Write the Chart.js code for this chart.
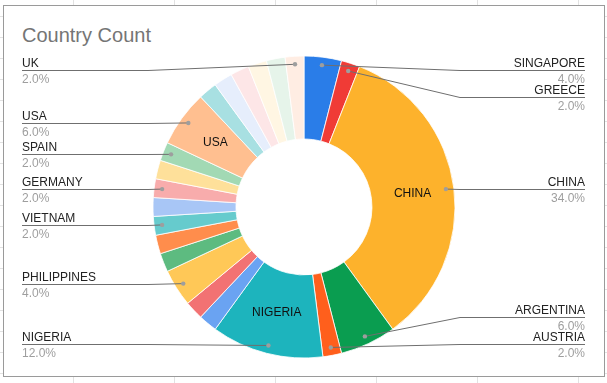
<!DOCTYPE html>
<html>
<head>
<meta charset="utf-8">
<script src="https://cdn.jsdelivr.net/npm/chart.js@4/dist/chart.umd.min.js"></script>
<style>
  html, body { margin: 0; padding: 0; }
  body {
    width: 607px; height: 383px; position: relative; overflow: hidden;
    background-color: #fff;
    background-image: linear-gradient(to right, #e2e2e2 1px, transparent 1px),
                      linear-gradient(to bottom, #e2e2e2 1px, transparent 1px);
    background-size: 101px 21px;
    background-position: 73px 16px;
  }
  #box {
    position: absolute; left: 3px; top: 5px; width: 602px; height: 372px;
    box-sizing: border-box; border: 1px solid #9a9a9a; background: #fff;
  }
  #title {
    position: absolute; left: 22px; top: 25px;
    font: 20px Arial, "Liberation Sans", sans-serif; line-height: 20px;
    color: #757575;
  }
  #wrap { position: absolute; left: 0; top: 0; width: 607px; height: 383px; }
</style>
</head>
<body>
<div id="box"></div>
<div id="title">Country Count</div>
<div id="wrap"><canvas id="chart"></canvas></div>
<script>
'use strict';

// Slices in clockwise order from 12 o'clock. Empty names = slices Sheets left unlabelled.
var countries = ['SINGAPORE', 'GREECE', 'CHINA', 'ARGENTINA', 'AUSTRIA', 'NIGERIA',
  '', '', 'PHILIPPINES', '', '', 'VIETNAM', '', 'GERMANY', '', 'SPAIN', 'USA',
  '', '', '', '', '', 'UK'];
var counts = [2, 1, 17, 3, 1, 6, 1, 1, 2, 1, 1, 1, 1, 1, 1, 1, 3, 1, 1, 1, 1, 1, 1];
var colors = ['#2a7de8', '#f03b36', '#fdb22c', '#0a9d50', '#ff5f1c', '#1db4bd',
  '#6aa3f2', '#f27273', '#ffc857', '#5dbb80', '#ff8d4c', '#66cbcd', '#a8c6f6',
  '#f8acac', '#fee09a', '#a2d9b4', '#ffbf90', '#a8e0e2', '#e6eefc', '#fde6e7',
  '#fff6e3', '#e6f4ea', '#ffede3'];

var FONT = 'Arial, "Liberation Sans", sans-serif';

// Spread the callouts of one side so they don't overlap, inside [top, bottom].
function layoutSide(items, top, bottom, gap) {
  items.sort(function (a, b) { return a.dy - b.dy; });
  items.forEach(function (it, k) {
    it.ly = Math.min(Math.max(it.dy, top), bottom);
    if (k > 0) it.ly = Math.max(it.ly, items[k - 1].ly + gap);
  });
  if (items.length) {
    var last = items[items.length - 1];
    last.ly = Math.min(last.ly, bottom);
  }
  for (var k = items.length - 2; k >= 0; k--) {
    items[k].ly = Math.min(items[k].ly, items[k + 1].ly - gap);
  }
}

var calloutPlugin = {
  id: 'callouts',
  afterDatasetsDraw: function (chart) {
    var ctx = chart.ctx,
        area = chart.chartArea,
        arcs = chart.getDatasetMeta(0).data,
        total = counts.reduce(function (a, b) { return a + b; }),
        left = [], right = [], cx = 0, cy = 0, outer = 0;

    ctx.save();
    ctx.font = '12px ' + FONT;

    arcs.forEach(function (arc, i) {
      var p = arc.getProps(['x', 'y', 'startAngle', 'endAngle', 'innerRadius', 'outerRadius'], true);
      cx = p.x; cy = p.y; outer = p.outerRadius;
      if (!countries[i]) return;
      var mid = (p.startAngle + p.endAngle) / 2,
          dotR = p.outerRadius - 8,
          midR = (p.innerRadius + p.outerRadius) / 2,
          item = {
            i: i,
            dx: p.x + Math.cos(mid) * dotR,
            dy: p.y + Math.sin(mid) * dotR
          };
      (Math.cos(mid) < 0 ? left : right).push(item);

      // label inside the slice when it fits
      var w = ctx.measureText(countries[i]).width;
      if ((p.endAngle - p.startAngle) * midR > w + 10) {
        ctx.fillStyle = '#111';
        ctx.textAlign = 'center';
        ctx.textBaseline = 'middle';
        ctx.fillText(countries[i], p.x + Math.cos(mid) * midR, p.y + Math.sin(mid) * midR);
      }
    });

    var top = area.top + 30, bottom = area.bottom - 30;
    layoutSide(left, top, bottom, 27);
    layoutSide(right, top, bottom, 27);

    function drawSide(items, isLeft) {
      var knee = isLeft ? cx - outer - 5 : cx + outer + 5,
          textX = isLeft ? 22 : 585;
      items.forEach(function (it) {
        var ly = Math.round(it.ly) + 0.5;
        ctx.strokeStyle = '#6f6f6f';
        ctx.lineWidth = 1;
        ctx.beginPath();
        ctx.moveTo(it.dx, it.dy);
        ctx.lineTo(knee, ly);
        ctx.lineTo(textX, ly);
        ctx.stroke();

        ctx.fillStyle = '#9e9e9e';
        ctx.beginPath();
        ctx.arc(it.dx, it.dy, 2.2, 0, Math.PI * 2);
        ctx.fill();

        ctx.textAlign = isLeft ? 'left' : 'right';
        ctx.textBaseline = 'alphabetic';
        ctx.fillStyle = '#222';
        ctx.fillText(countries[it.i], textX, ly - 4);
        ctx.fillStyle = '#9e9e9e';
        ctx.fillText((counts[it.i] / total * 100).toFixed(1) + '%', textX, ly + 12);
      });
    }
    drawSide(left, true);
    drawSide(right, false);
    ctx.restore();
  }
};

new Chart(document.getElementById('chart'), {
  type: 'doughnut',
  data: {
    labels: countries,
    datasets: [{
      data: counts,
      backgroundColor: colors,
      borderColor: '#ffffff',
      borderWidth: 0.8,
      hoverOffset: 0
    }]
  },
  options: {
    responsive: true,
    maintainAspectRatio: false,
    animation: false,
    radius: 151,
    cutout: 75,
    layout: { padding: { left: 1, right: 0, top: 40, bottom: 9 } },
    plugins: {
      legend: { display: false },
      tooltip: { enabled: false }
    }
  },
  plugins: [calloutPlugin]
});
</script>
</body>
</html>
